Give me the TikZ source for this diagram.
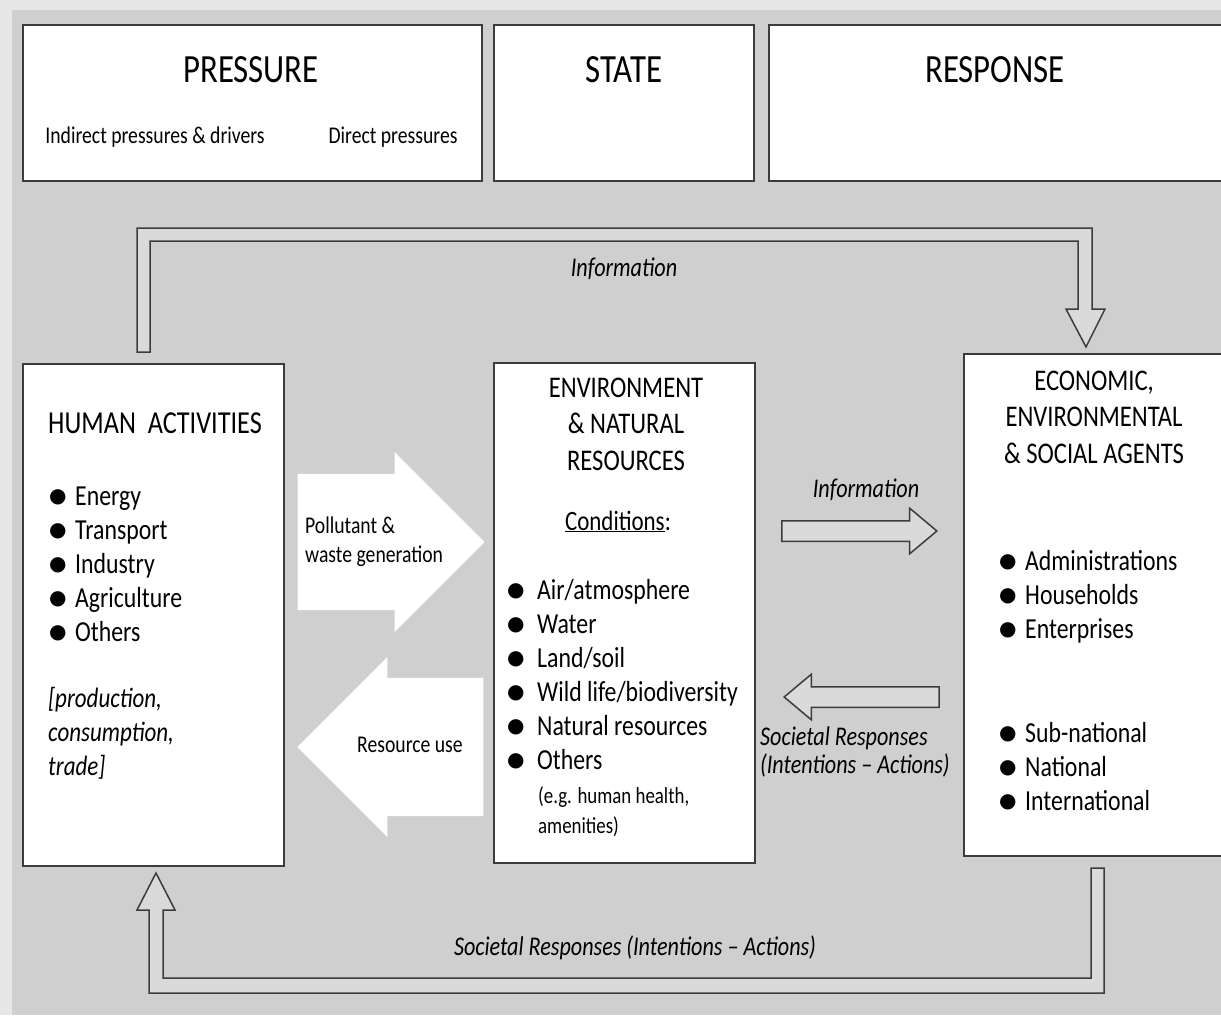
\documentclass[tikz,border=0pt]{standalone}
\usepackage{fontspec}
\setmainfont{Carlito}[FakeStretch=0.82]
\newfontfamily\dotfont{DejaVu Sans}
\usetikzlibrary{positioning,shapes.arrows}

\definecolor{backgrey}{RGB}{207,207,207}
\definecolor{rimgrey}{RGB}{231,231,231}
\definecolor{tipgrey}{RGB}{218,218,218}
\definecolor{edge}{RGB}{60,60,60}
\newcommand{\blt}[1][26pt]{\makebox[#1][l]{\dotfont\fontsize{20}{20}\selectfont\raisebox{3pt}{●}}}

\begin{document}
\begin{tikzpicture}[x=1pt, y=-1pt,
  panel/.style = {draw=edge, line width=1.5pt, fill=white, inner sep=0pt, anchor=north west},
  heading/.style = {font=\fontsize{40}{48}\selectfont, inner sep=0pt, anchor=base},
  boxtitle/.style = {font=\fontsize{30}{36.5}\selectfont, align=center, inner sep=0pt, anchor=base},
  item/.style = {font=\fontsize{29}{34}\selectfont, inner sep=0pt, anchor=base west},
  note/.style = {font=\fontsize{24}{29}\selectfont, inner sep=0pt, anchor=base west},
  flowlabel/.style = {font=\fontsize{27}{28}\selectfont\itshape, inner sep=0pt, anchor=base},
  blockarrow/.style = {single arrow, fill=white, inner xsep=0pt, anchor=tip, single arrow head extend=22pt},
  thinarrow/.style = {single arrow, draw=edge, fill=tipgrey, line width=1.5pt, inner xsep=0pt, inner ysep=9.5pt,
    anchor=tip, minimum height=155pt, single arrow head extend=12.5pt, single arrow tip angle=80},
  bigarrow/.style = {draw=edge, fill=tipgrey, line width=1.5pt, line join=miter},
  ]
  \clip (0,0) rectangle (1221,1015);
  \fill[rimgrey] (0,0) rectangle (1221,1015);
  \fill[backgrey] (12,10) rectangle (1221,1015);

  % top row
  \node[panel, minimum width=459pt, minimum height=156pt] (pressure) at (22,24) {};
  \node[panel, minimum width=260pt, minimum height=156pt] (state) at (493,24) {};
  \node[panel, minimum width=470pt, minimum height=156pt] (response) at (768,24) {};
  \node[heading] (ptitle) at (251,82) {PRESSURE};
  \node[heading] (stitle) at (624,82) {STATE};
  \node[heading] (rtitle) at (995,82) {RESPONSE};
  \node[note, anchor=base] (indirect) at (155,143) {Indirect pressures \& drivers};
  \node[note, anchor=base] (direct) at (393,143) {Direct pressures};

  % the three boxes
  \node[panel, minimum width=261pt, minimum height=502pt] (human) at (22,363) {};
  \node[panel, minimum width=261pt, minimum height=500pt] (env) at (493,362) {};
  \node[panel, minimum width=270pt, minimum height=502pt] (agents) at (963,353) {};

  % loops round the boxes
  \draw[bigarrow] (137,352) -- (137,228) -- (1092,228) -- (1092,309) -- (1105,309) -- (1086,347)
    -- (1066,309) -- (1078,309) -- (1078,241) -- (150,241) -- (150,352) -- cycle;
  \draw[bigarrow] (1104,868) -- (1104,993) -- (149,993) -- (149,910) -- (137,910) -- (156,873)
    -- (175,910) -- (163,910) -- (163,978) -- (1091,978) -- (1091,868) -- cycle;
  \node[flowlabel] (toplabel) at (624,276) {Information};
  \node[flowlabel] (bottomlabel) at (635,955) {Societal Responses (Intentions -- Actions)};

  % arrows between the boxes
  \node[blockarrow, minimum height=187pt, inner ysep=68pt] (pollution) at (485,542) {};
  \node[blockarrow, minimum height=186pt, inner ysep=69pt, single arrow head extend=21pt,
    shape border rotate=180] (resource) at (297,747) {};
  \node[thinarrow] (infoarrow) at (938,531) {};
  \node[thinarrow, shape border rotate=180] (resparrow) at (783,697) {};
  \node[note, align=left] (pollutlabel) at (305,562) {Pollutant \&\\waste generation};
  \node[note] (resourcelabel) at (357,752) {Resource use};
  \node[flowlabel] (infolabel) at (866,497) {Information};
  \node[flowlabel, align=left, anchor=base west] (resplabel) at (760,773) {Societal Responses\\(Intentions -- Actions)};

  % human activities
  \node[anchor=base west, inner sep=0pt, font=\fontsize{32}{38}\selectfont] (humtitle) at (48,433) {HUMAN\ \ ACTIVITIES};
  \foreach \t [count=\i from 0] in {Energy,Transport,Industry,Agriculture,Others}
    \node[item] (hum\i) at (49,{505+34*\i}) {\blt\t};
  \node[item, align=left, font=\fontsize{28}{34}\selectfont\itshape] (humnote) at (48,775) {[production,\\consumption,\\trade]};

  % environment
  \node[boxtitle] (envtitle) at (626,470) {ENVIRONMENT\\\& NATURAL\\RESOURCES};
  \node[item, anchor=base, font=\fontsize{28}{34}\selectfont] (cond) at (618,530) {\underline{Conditions}:};
  \foreach \t [count=\i from 0] in {{Air/atmosphere},Water,{Land/soil},{Wild life/biodiversity},Natural resources,Others}
    \node[item] (env\i) at (507,{599+34*\i}) {\blt[30pt]\t};
  \node[note, align=left, font=\fontsize{23}{30}\selectfont] (eg) at (538,833) {(e.g. human health,\\amenities)};

  % agents
  \node[boxtitle] (agtitle) at (1094,463) {ECONOMIC,\\ENVIRONMENTAL\\\& SOCIAL AGENTS};
  \foreach \t [count=\i from 0] in {Administrations,Households,Enterprises}
    \node[item] (agent\i) at (999,{570+34*\i}) {\blt\t};
  \foreach \t [count=\i from 0] in {Sub-national,National,International}
    \node[item] (level\i) at (999,{742+34*\i}) {\blt\t};
\end{tikzpicture}
\end{document}
